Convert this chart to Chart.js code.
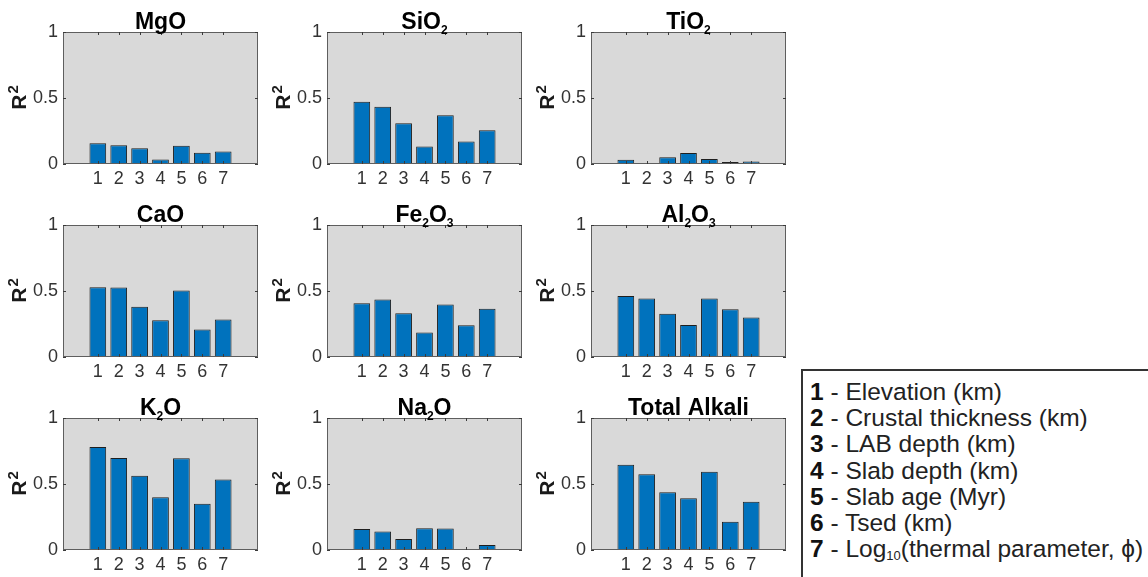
<!DOCTYPE html>
<html>
<head>
<meta charset="utf-8">
<script src="https://cdn.jsdelivr.net/npm/chart.js@4/dist/chart.umd.min.js"></script>
<style>
  html, body { margin: 0; padding: 0; background: #fff; width: 1148px; height: 577px; overflow: hidden; }
  .panel { position: absolute; width: 264px; height: 193px; }
  #key {
    position: absolute; left: 801px; top: 369px; width: 370px; height: 230px;
    box-sizing: border-box; border: 2px solid #333; padding: 8px 0 0 7px;
    font-family: "Liberation Sans", Arial, sans-serif; font-size: 24.5px; line-height: 26.2px; color: #222;
    white-space: nowrap;
  }
  #key b { color: #111; }
  #key sub { font-size: 13px; line-height: 0; vertical-align: -3px; }
</style>
</head>
<body>
<canvas class="panel" id="p0" width="264" height="193" style="left:0px;top:0px"></canvas>
<canvas class="panel" id="p1" width="264" height="193" style="left:264px;top:0px"></canvas>
<canvas class="panel" id="p2" width="264" height="193" style="left:528px;top:0px"></canvas>
<canvas class="panel" id="p3" width="264" height="193" style="left:0px;top:193px"></canvas>
<canvas class="panel" id="p4" width="264" height="193" style="left:264px;top:193px"></canvas>
<canvas class="panel" id="p5" width="264" height="193" style="left:528px;top:193px"></canvas>
<canvas class="panel" id="p6" width="264" height="193" style="left:0px;top:386px"></canvas>
<canvas class="panel" id="p7" width="264" height="193" style="left:264px;top:386px"></canvas>
<canvas class="panel" id="p8" width="264" height="193" style="left:528px;top:386px"></canvas>

<div id="key"></div>

<script>
// predictor numbers on the x axis, and what they stand for
const predictors = ["1", "2", "3", "4", "5", "6", "7"];
const predictorNames = [
  "Elevation (km)",
  "Crustal thickness (km)",
  "LAB depth (km)",
  "Slab depth (km)",
  "Slab age (Myr)",
  "Tsed (km)",
  "Log<sub>10</sub>(thermal parameter, \u03d5)"
];
const yTicks = [0, 0.5, 1];

// R^2 per predictor, one array per oxide
const mgo = [0.157, 0.142, 0.119, 0.035, 0.139, 0.086, 0.094];
const sio2 = [0.472, 0.434, 0.309, 0.133, 0.370, 0.171, 0.255];
const tio2 = [0.033, 0.008, 0.051, 0.084, 0.038, 0.015, 0.018];
const cao = [0.529, 0.527, 0.380, 0.278, 0.504, 0.208, 0.284];
const fe2o3 = [0.408, 0.435, 0.332, 0.185, 0.397, 0.241, 0.365];
const al2o3 = [0.463, 0.443, 0.327, 0.243, 0.443, 0.362, 0.299];
const k2o = [0.781, 0.697, 0.562, 0.399, 0.695, 0.351, 0.534];
const na2o = [0.160, 0.140, 0.084, 0.165, 0.163, 0.005, 0.038];
const totalAlkali = [0.646, 0.573, 0.438, 0.392, 0.593, 0.214, 0.366];

const titles = ["MgO", "SiO2", "TiO2", "CaO", "Fe2O3", "Al2O3", "K2O", "Na2O", "Total Alkali"];
const series = [mgo, sio2, tio2, cao, fe2o3, al2o3, k2o, na2o, totalAlkali];

const family = '"Liberation Sans", Arial, Helvetica, sans-serif';

// grey axes background, box outline and inward tick marks like the original figure
const boxPlugin = {
  id: "box",
  beforeDatasetsDraw(chart) {
    const { ctx, chartArea: a } = chart;
    ctx.save();
    ctx.fillStyle = "#d9d9d9";
    ctx.fillRect(a.left, a.top, a.right - a.left, a.bottom - a.top);
    ctx.restore();
  },
  afterDatasetsDraw(chart) {
    const { ctx, chartArea: a, scales } = chart;
    ctx.save();
    ctx.strokeStyle = "#5e5e5e";
    ctx.lineWidth = 1;
    ctx.strokeRect(Math.round(a.left) + 0.5, Math.round(a.top) + 0.5,
      Math.round(a.right - a.left) - 1, Math.round(a.bottom - a.top) - 1);
    ctx.strokeStyle = "#3a3a3a";
    ctx.beginPath();
    predictors.forEach((_, i) => {
      const x = Math.round(scales.x.getPixelForValue(i + 1)) + 0.5;
      ctx.moveTo(x, a.top); ctx.lineTo(x, a.top + 3);
      ctx.moveTo(x, a.bottom); ctx.lineTo(x, a.bottom - 3);
    });
    yTicks.forEach((v) => {
      const y = Math.round(scales.y.getPixelForValue(v)) + 0.5;
      ctx.moveTo(a.left, y); ctx.lineTo(a.left + 3, y);
      ctx.moveTo(a.right, y); ctx.lineTo(a.right - 3, y);
    });
    ctx.stroke();
    ctx.restore();
  }
};

// bold title with subscript digits (SiO2 -> SiO₂), plus the rotated R² label
const titlePlugin = {
  id: "oxideTitle",
  afterDraw(chart, args, opts) {
    const { ctx, chartArea: a } = chart;
    const parts = opts.text.split(/(\d+)/).filter((s) => s.length);
    const big = "bold 23px " + family;
    const small = "bold 12px " + family;
    ctx.save();
    let total = 0;
    const widths = parts.map((p) => {
      ctx.font = /^\d+$/.test(p) ? small : big;
      const w = ctx.measureText(p).width;
      total += w;
      return w;
    });
    let x = (a.left + a.right) / 2 - total / 2;
    const base = a.top - 3;
    ctx.fillStyle = "#000";
    ctx.textBaseline = "alphabetic";
    ctx.textAlign = "left";
    parts.forEach((p, i) => {
      const sub = /^\d+$/.test(p);
      ctx.font = sub ? small : big;
      ctx.fillText(p, x, sub ? base + 5 : base);
      x += widths[i];
    });

    // y axis label: R with a superscript 2, reading bottom to top
    ctx.translate(26, (a.top + a.bottom) / 2);
    ctx.rotate(-Math.PI / 2);
    ctx.font = "bold 21px " + family;
    const rw = ctx.measureText("R").width;
    ctx.font = "bold 15px " + family;
    const sw = ctx.measureText("2").width;
    const start = -(rw + sw) / 2;
    ctx.fillStyle = "#1a1a1a";
    ctx.font = "bold 21px " + family;
    ctx.fillText("R", start, 0);
    ctx.font = "bold 15px " + family;
    ctx.fillText("2", start + rw + 1, -8);
    ctx.restore();
  }
};

series.forEach((values, idx) => {
  new Chart(document.getElementById("p" + idx), {
    type: "bar",
    data: {
      datasets: [{
        data: values.map((v, i) => ({ x: i + 1, y: v })),
        backgroundColor: "#0072bd",
        borderColor: "#1f1f1f",
        borderWidth: 1,
        barPercentage: 0.8,
        categoryPercentage: 1
      }]
    },
    options: {
      responsive: false,
      animation: false,
      layout: { padding: { top: 32, right: 6, left: 0, bottom: 0 } },
      plugins: {
        legend: { display: false },
        tooltip: { enabled: false },
        oxideTitle: { text: titles[idx] }
      },
      scales: {
        x: {
          type: "linear",
          min: 0,
          max: predictors.length + 1,
          afterBuildTicks: (scale) => {
            scale.ticks = predictors.map((_, i) => ({ value: i + 1 }));
          },
          afterFit: (scale) => { scale.height = 29; },
          grid: { display: false, drawTicks: false },
          border: { display: false },
          ticks: {
            callback: (v) => predictors[v - 1],
            autoSkip: false,
            maxRotation: 0,
            padding: 4,
            color: "#333",
            font: { family, size: 18 }
          }
        },
        y: {
          min: 0,
          max: 1,
          afterBuildTicks: (scale) => {
            scale.ticks = yTicks.map((v) => ({ value: v }));
          },
          afterFit: (scale) => { scale.width = 63; },
          grid: { display: false, drawTicks: false },
          border: { display: false },
          ticks: {
            callback: (v) => String(v),
            padding: 5,
            color: "#333",
            font: { family, size: 18 }
          }
        }
      }
    },
    plugins: [boxPlugin, titlePlugin]
  });
});

document.getElementById("key").innerHTML = predictors
  .map((p, i) => "<div><b>" + p + "</b> - " + predictorNames[i] + "</div>")
  .join("");
</script>
</body>
</html>
